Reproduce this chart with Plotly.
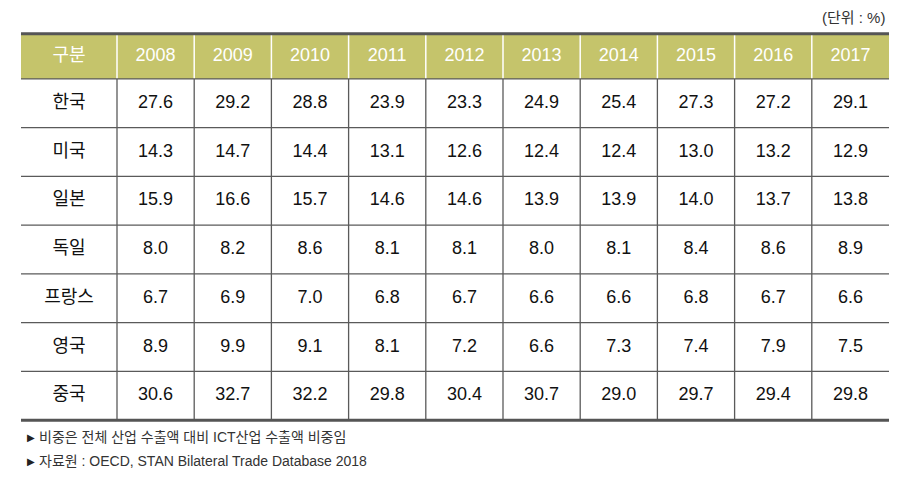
import plotly.graph_objects as go

# ---------------- data ----------------
years = ["2008", "2009", "2010", "2011", "2012", "2013", "2014", "2015", "2016", "2017"]
countries = ["한국", "미국", "일본", "독일", "프랑스", "영국", "중국"]
korea = [27.6, 29.2, 28.8, 23.9, 23.3, 24.9, 25.4, 27.3, 27.2, 29.1]
usa = [14.3, 14.7, 14.4, 13.1, 12.6, 12.4, 12.4, 13.0, 13.2, 12.9]
japan = [15.9, 16.6, 15.7, 14.6, 14.6, 13.9, 13.9, 14.0, 13.7, 13.8]
germany = [8.0, 8.2, 8.6, 8.1, 8.1, 8.0, 8.1, 8.4, 8.6, 8.9]
france = [6.7, 6.9, 7.0, 6.8, 6.7, 6.6, 6.6, 6.8, 6.7, 6.6]
uk = [8.9, 9.9, 9.1, 8.1, 7.2, 6.6, 7.3, 7.4, 7.9, 7.5]
china = [30.6, 32.7, 32.2, 29.8, 30.4, 30.7, 29.0, 29.7, 29.4, 29.8]
header_label = "구분"
unit_label = "(단위 : %)"
notes = ["비중은 전체 산업 수출액 대비 ICT산업 수출액 비중임",
         "자료원 : OECD, STAN Bilateral Trade Database 2018"]

series = [korea, usa, japan, germany, france, uk, china]

# ---------------- layout constants ----------------
W, H = 907, 486
COL_PX = 77.2          # width of a year column in px
ROW_PX = 48.71         # height of a body row in px
FIRST_W = 96 / COL_PX  # first column width in column units
HEAD_H = 45 / ROW_PX   # header height in row units
PAD = 0.1              # extra axis range so edge lines are not clipped
LEFT, TOP = 21, 34     # pixel position of the table's top-left corner

n_rows = len(countries)
n_cols = len(years)

x0_range, x1_range = -FIRST_W, n_cols
y_top, y_bot = -HEAD_H - PAD, n_rows + PAD

margin_l = LEFT
plot_w = (x1_range - x0_range) * COL_PX
margin_r = W - (LEFT + plot_w)
margin_t = TOP - PAD * ROW_PX
plot_h = (y_bot - y_top) * ROW_PX
margin_b = H - margin_t - plot_h


def paper_x(px):
    return (px - margin_l) / plot_w


def paper_y(py):
    return 1 - (py - margin_t) / plot_h


HEADER_BG = "#C5C46B"
LINE = "#5a5a5a"
NUM_FONT = "Liberation Sans Narrow, Arial Narrow, Liberation Sans, Arial, sans-serif"
KR_FONT = "Noto Sans CJK KR, sans-serif"
NOTE_FONT = "Liberation Sans, Noto Sans CJK KR, sans-serif"

fig = go.Figure()

# body numbers
bx, by, bt = [], [], []
for r, vals in enumerate(series):
    for c, v in enumerate(vals):
        bx.append(c + 0.5)
        by.append(r + 0.5)
        bt.append(f"{v:.1f}")
fig.add_trace(go.Scatter(x=bx, y=by, text=bt, mode="text", hoverinfo="skip",
                         textfont=dict(family=NUM_FONT, size=18, color="#111111"),
                         cliponaxis=False, showlegend=False))

# row labels
fig.add_trace(go.Scatter(x=[-FIRST_W / 2] * n_rows, y=[r + 0.5 for r in range(n_rows)],
                         text=countries, mode="text", hoverinfo="skip",
                         textfont=dict(family=KR_FONT, size=18, color="#111111"),
                         cliponaxis=False, showlegend=False))

# header years
fig.add_trace(go.Scatter(x=[c + 0.5 for c in range(n_cols)], y=[-HEAD_H / 2] * n_cols,
                         text=years, mode="text", hoverinfo="skip",
                         textfont=dict(family=NUM_FONT, size=18, color="white"),
                         cliponaxis=False, showlegend=False))
fig.add_trace(go.Scatter(x=[-FIRST_W / 2], y=[-HEAD_H / 2], text=[header_label],
                         mode="text", hoverinfo="skip",
                         textfont=dict(family=KR_FONT, size=18, color="white"),
                         cliponaxis=False, showlegend=False))

shapes = []
# header background
shapes.append(dict(type="rect", xref="x", yref="y", x0=-FIRST_W, x1=n_cols,
                   y0=-HEAD_H, y1=0, fillcolor=HEADER_BG, line=dict(width=0), layer="below"))
# vertical lines
for c in range(n_cols):
    shapes.append(dict(type="line", xref="x", yref="y", x0=c, x1=c, y0=-HEAD_H, y1=0,
                       line=dict(color="white", width=1.5)))
    shapes.append(dict(type="line", xref="x", yref="y", x0=c, x1=c, y0=0, y1=n_rows,
                       line=dict(color=LINE, width=1.3)))
# horizontal lines
for r in range(0, n_rows):
    shapes.append(dict(type="line", xref="x", yref="y", x0=-FIRST_W, x1=n_cols, y0=r, y1=r,
                       line=dict(color=LINE, width=1.3)))
shapes.append(dict(type="line", xref="x", yref="y", x0=-FIRST_W, x1=n_cols,
                   y0=-HEAD_H, y1=-HEAD_H, line=dict(color="#555555", width=3)))
shapes.append(dict(type="line", xref="x", yref="y", x0=-FIRST_W, x1=n_cols,
                   y0=n_rows, y1=n_rows, line=dict(color="#555555", width=3)))

annotations = [
    dict(x=paper_x(887), y=paper_y(18), xref="paper", yref="paper", text=unit_label,
         showarrow=False, xanchor="right", yanchor="middle",
         font=dict(family=NOTE_FONT, size=15, color="#333333")),
]
for i, note in enumerate(notes):
    yy = paper_y(437 + 24 * i)
    annotations.append(dict(x=paper_x(25), y=yy, xref="paper", yref="paper", text="▶",
                            showarrow=False, xanchor="left", yanchor="middle",
                            font=dict(family="DejaVu Sans", size=10, color="#222222")))
    annotations.append(dict(x=paper_x(37), y=yy, xref="paper", yref="paper", text=note,
                            showarrow=False, xanchor="left", yanchor="middle",
                            font=dict(family=NOTE_FONT, size=14, color="#333333")))

fig.update_layout(
    width=W, height=H,
    margin=dict(l=margin_l, r=margin_r, t=margin_t, b=margin_b, pad=0),
    paper_bgcolor="white", plot_bgcolor="white",
    xaxis=dict(range=[x0_range, x1_range], visible=False, fixedrange=True),
    yaxis=dict(range=[y_bot, y_top], visible=False, fixedrange=True),
    shapes=shapes, annotations=annotations,
)

fig.write_html("out.html", config={"displayModeBar": False},
               post_script="document.body.style.margin='0px';")
